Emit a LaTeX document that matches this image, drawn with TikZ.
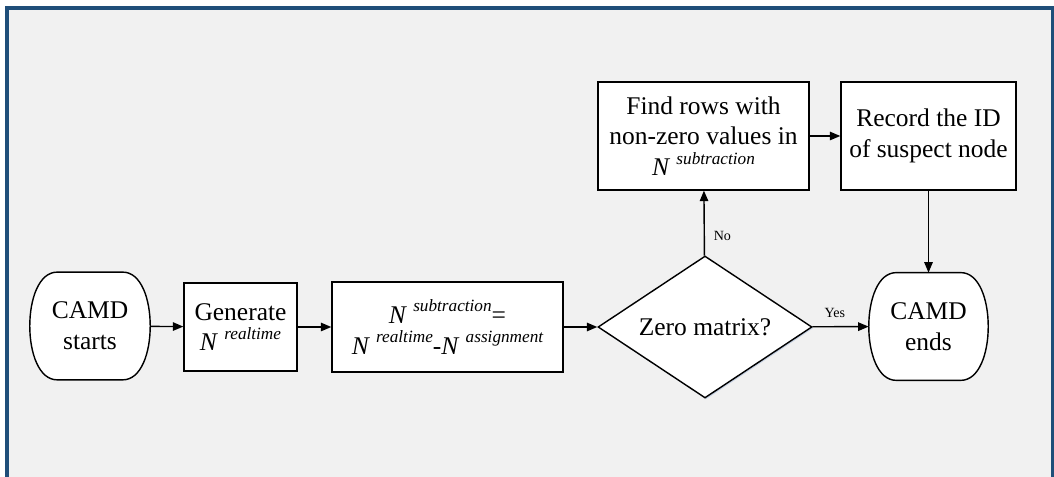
\documentclass[tikz,border=0pt]{standalone}
\usepackage{fontspec}
\setmainfont{Liberation Serif}[ItalicFont=Liberation Serif Italic]
\usetikzlibrary{arrows.meta,shapes.geometric,shadows,backgrounds}

\definecolor{framecol}{RGB}{31,78,121}
\definecolor{panelcol}{RGB}{241,241,241}
\definecolor{shadowcol}{RGB}{196,208,226}

% N with an italic superscript, set as text
\newcommand{\Nsup}[1]{\textit{N}\hspace{3.5pt}\raisebox{6.5pt}{\fontsize{9.8}{10}\selectfont\itshape #1}}

\begin{document}
\begin{tikzpicture}[
    font=\fontsize{14.5}{17.5}\selectfont,
    box/.style={draw, fill=white, line width=0.8pt, align=center, inner sep=1pt,
        drop shadow={shadow xshift=0.6pt, shadow yshift=-0.8pt, fill=shadowcol, opacity=1}},
    terminal/.style={align=center, inner sep=0pt, minimum width=2.4cm, minimum height=2.14cm},
    termline/.style={draw, fill=white, line width=0.8pt},
    decision/.style={diamond, draw, fill=white, line width=0.8pt, aspect=1.5, inner sep=1pt,
        minimum width=4.28cm, minimum height=2.84cm,
        drop shadow={shadow xshift=0.6pt, shadow yshift=-0.8pt, fill=shadowcol, opacity=1}},
    arr/.style={-{Triangle[length=0.21cm,width=0.17cm]}, line width=0.8pt},
    lbl/.style={font=\fontsize{8}{9}\selectfont, inner sep=1pt}
]
    \useasboundingbox (0,0) rectangle (21.08,9.54);
    \clip (0,0) rectangle (21.08,9.54);

    % panel and frame
    \begin{scope}[on background layer]
        \fill[white] (0,0) rectangle (21.08,9.54);
        \draw[framecol, fill=panelcol, line width=0.08cm] (0.14,-0.035) rectangle (21.06,9.38);
    \end{scope}

    % main row
    \node[terminal] (start) at (1.80,3.02) {CAMD\\starts};
    \node[box, minimum width=2.26cm, minimum height=1.76cm] (gen) at (4.81,3.0) {Generate\\\Nsup{realtime}};
    \node[box, minimum width=4.62cm, minimum height=1.80cm] (sub) at (8.95,3.0)
        {\Nsup{subtraction}=\\\Nsup{realtime}-\Nsup{assignment}};
    \node[decision] (dec) at (14.10,3.0) {Zero matrix?};
    \node[terminal, minimum width=2.38cm] (end) at (18.57,3.01) {CAMD\\ends};

    % upper row
    \node[box, minimum width=4.22cm, minimum height=2.16cm] (find) at (14.07,6.82)
        {Find rows with\\non-zero values in\\\Nsup{subtraction}};
    \node[box, minimum width=3.5cm, minimum height=2.16cm] (rec) at (18.57,6.82)
        {Record the ID\\of suspect node};

    % rounded ends of the terminals
    \begin{scope}[on background layer]
        \draw[termline] ([xshift=0.55cm]start.north west) -- ([xshift=-0.55cm]start.north east)
            .. controls ([xshift=0.18cm]start.north east) and ([xshift=0.18cm]start.south east) .. ([xshift=-0.55cm]start.south east)
            -- ([xshift=0.55cm]start.south west)
            .. controls ([xshift=-0.18cm]start.south west) and ([xshift=-0.18cm]start.north west) .. cycle;
        \draw[termline] ([xshift=0.55cm]end.north west) -- ([xshift=-0.55cm]end.north east)
            .. controls ([xshift=0.18cm]end.north east) and ([xshift=0.18cm]end.south east) .. ([xshift=-0.55cm]end.south east)
            -- ([xshift=0.55cm]end.south west)
            .. controls ([xshift=-0.18cm]end.south west) and ([xshift=-0.18cm]end.north west) .. cycle;
    \end{scope}

    \draw[arr] (start) -- (gen);
    \draw[arr] (gen) -- (sub);
    \draw[arr] (sub) -- (dec);
    \draw[arr] (dec) -- node[lbl, right=4pt, pos=0.3] {No} (find);
    \draw[arr] (dec) -- node[lbl, above=4pt, pos=0.4] {Yes} (end);
    \draw[arr] (find) -- (rec);
    \draw[arr] (rec) -- (end);
\end{tikzpicture}
\end{document}
